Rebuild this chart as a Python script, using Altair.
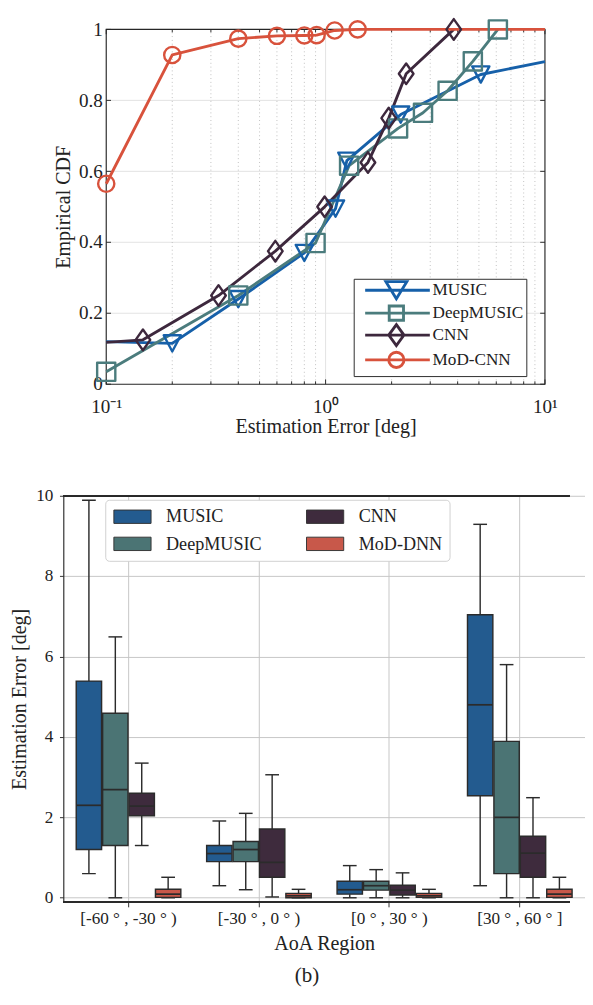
import altair as alt
import pandas as pd

FONT = "Liberation Serif"
TXT = "#222222"

# ---------------- top panel: empirical CDF ----------------
series_top = ["MUSIC", "DeepMUSIC", "CNN", "MoD-CNN"]
colors_top = ["#1660a9", "#4b7c7d", "#3d283d", "#d8523c"]

music_x = [0.1, 0.2, 0.4, 0.8, 1.11, 1.25, 2.2, 5.1, 10.0]
music_y = [0.12, 0.115, 0.24, 0.37, 0.495, 0.63, 0.76, 0.873, 0.909]
music_m = [0, 1, 1, 1, 1, 1, 1, 1, 0]

deep_x = [0.1, 0.4, 0.9, 1.28, 2.14, 2.78, 3.6, 4.69, 6.1]
deep_y = [0.035, 0.25, 0.398, 0.616, 0.721, 0.765, 0.827, 0.91, 1.0]
deep_m = [1, 1, 1, 1, 1, 1, 1, 1, 1]

cnn_x = [0.1, 0.147, 0.325, 0.59, 0.99, 1.56, 1.94, 2.33, 3.84]
cnn_y = [0.118, 0.125, 0.25, 0.375, 0.5, 0.625, 0.75, 0.875, 1.0]
cnn_m = [0, 1, 1, 1, 1, 1, 1, 1, 1]

mod_x = [0.1, 0.2, 0.4, 0.6, 0.8, 0.91, 1.1, 1.4, 10.0]
mod_y = [0.565, 0.928, 0.974, 0.982, 0.983, 0.984, 0.997, 1.0, 1.0]
mod_m = [1, 1, 1, 1, 1, 1, 1, 1, 0]

y_ticks_top = [0, 0.2, 0.4, 0.6, 0.8, 1.0]
x_major_top = [0.1, 1, 10]
x_minor_top = [0.2, 0.3, 0.4, 0.5, 0.6, 0.7, 0.8, 0.9, 2, 3, 4, 5, 6, 7, 8, 9]

# ---------------- bottom panel: box plots ----------------
regions = ["[-60 ° , -30 ° )", "[-30 ° , 0 ° )", "[0 ° , 30 ° )", "[30 ° , 60 ° ]"]
methods = ["MUSIC", "DeepMUSIC", "CNN", "MoD-DNN"]
colors_bot = ["#235b8f", "#4b7474", "#3e2b3d", "#c8584a"]

# per region: [MUSIC, DeepMUSIC, CNN, MoD-DNN]
w_lo = [[0.60, 0.0, 1.30, 0.0], [0.30, 0.20, 0.02, 0.0], [0.0, 0.0, 0.0, 0.0], [0.30, 0.0, 0.0, 0.0]]
q1 = [[1.20, 1.30, 2.04, 0.01], [0.90, 0.90, 0.51, 0.0], [0.09, 0.19, 0.07, 0.01], [2.54, 0.60, 0.51, 0.01]]
med = [[2.30, 2.69, 2.28, 0.09], [1.10, 1.20, 0.88, 0.05], [0.20, 0.30, 0.19, 0.05], [4.80, 2.00, 1.11, 0.09]]
q3 = [[5.39, 4.59, 2.60, 0.21], [1.30, 1.40, 1.71, 0.11], [0.41, 0.41, 0.31, 0.11], [7.04, 3.89, 1.53, 0.21]]
w_hi = [[9.89, 6.49, 3.35, 0.51], [1.91, 2.10, 3.06, 0.21], [0.80, 0.70, 0.62, 0.21], [9.29, 5.80, 2.49, 0.51]]

y_ticks_bot = [0, 2, 4, 6, 8, 10]

# ---------------- build tables ----------------
rows = []
for name, xs_, ys_, ms_ in zip(series_top, [music_x, deep_x, cnn_x, mod_x],
                               [music_y, deep_y, cnn_y, mod_y],
                               [music_m, deep_m, cnn_m, mod_m]):
    for i, (a, b, c) in enumerate(zip(xs_, ys_, ms_)):
        rows.append({"series": name, "x": a, "y": b, "m": c, "idx": i})
df_top = pd.DataFrame(rows)

brow = []
for i, r in enumerate(regions):
    for j, m in enumerate(methods):
        brow.append({"region": r, "method": m, "lo": w_lo[i][j], "q1": q1[i][j],
                     "med": med[i][j], "q3": q3[i][j], "hi": w_hi[i][j]})
df_box = pd.DataFrame(brow)

# ---------------- top chart ----------------
xs = alt.Scale(type="log", domain=[0.1, 10], range=[45, 505], nice=False)
ys = alt.Scale(domain=[0, 1], nice=False, zero=False)
FRAME = "#262626"

x_axis_top = alt.Axis(values=x_major_top,
                      labelExpr="datum.value < 0.5 ? '10⁻¹' : (datum.value < 5 ? '10⁰' : '10¹')",
                      grid=False, ticks=False, domain=False, labelPadding=14, labelFlush=False,
                      labelFontSize=20, title="Estimation Error [deg]", titleFontSize=21,
                      titlePadding=0)
y_axis_top = alt.Axis(values=y_ticks_top, format="~g", grid=False, ticks=False, domain=False,
                      offset=-45, labelPadding=4, labelFontSize=20, title="Empirical CDF",
                      titleFontSize=21, titlePadding=5)


def XT(field):
    return alt.X(field, type="quantitative", scale=xs, axis=x_axis_top)


def YT(field):
    return alt.Y(field, type="quantitative", scale=ys, axis=y_axis_top)


frame_df = pd.DataFrame({"x0": [0.1], "x1": [10], "y0": [0], "y1": [1]})
frame = alt.Chart(frame_df).mark_rect(fillOpacity=0, stroke=FRAME, strokeWidth=1.2).encode(
    x=XT("x0"), x2="x1:Q", y=YT("y0"), y2="y1:Q")

hgrid = alt.Chart(pd.DataFrame({"y": y_ticks_top[1:-1], "x0": 0.1, "x1": 10})).mark_rule(
    color="#e2e2e2", strokeWidth=1).encode(x=XT("x0"), x2="x1:Q", y=YT("y"))
vgrid_major = alt.Chart(pd.DataFrame({"x": [1], "y0": 0, "y1": 1})).mark_rule(
    color="#e2e2e2", strokeWidth=1).encode(x=XT("x"), y=YT("y0"), y2="y1:Q")
vgrid_minor = alt.Chart(pd.DataFrame({"x": x_minor_top, "y0": 0, "y1": 1})).mark_rule(
    color="#bdbdbd", strokeWidth=1, strokeDash=[1, 3]).encode(x=XT("x"), y=YT("y0"), y2="y1:Q")


def tick_layer(xv, yv, path, size):
    d = pd.DataFrame({"x": xv, "y": yv})
    return alt.Chart(d).mark_point(shape=path, size=size, filled=False, color=FRAME,
                                   strokeWidth=1, opacity=1, strokeJoin="round").encode(
        x=XT("x"), y=YT("y"))


ticks = [
    tick_layer([0.1] * len(y_ticks_top), y_ticks_top, "M0,0H1", 100),
    tick_layer([10] * len(y_ticks_top), y_ticks_top, "M0,0H-1", 100),
    tick_layer(x_major_top, [0] * 3, "M0,0V-1", 100),
    tick_layer(x_major_top, [1] * 3, "M0,0V1", 100),
    tick_layer(x_minor_top, [0] * len(x_minor_top), "M0,0V-1", 36),
    tick_layer(x_minor_top, [1] * len(x_minor_top), "M0,0V1", 36),
]

cs_top = alt.Scale(domain=series_top, range=colors_top)
marker_paths = ["M-0.9,-0.85L0.9,-0.85L0,0.85Z", "square", "M0,-1.2L0.85,0L0,1.2L-0.85,0Z", "circle"]
marker_sizes = [400, 289, 400, 289]

base_top = alt.Chart(df_top)
lines = base_top.mark_line(strokeWidth=3, strokeJoin="round").encode(
    x=XT("x"), y=YT("y"),
    color=alt.Color("series:N", scale=cs_top, legend=None), order="idx:Q")
points = base_top.transform_filter("datum.m == 1").mark_point(
    filled=False, strokeWidth=2.5, opacity=1, strokeJoin="round").encode(
    x=XT("x"), y=YT("y"),
    color=alt.Color("series:N", scale=cs_top, legend=None),
    shape=alt.Shape("series:N", scale=alt.Scale(domain=series_top, range=marker_paths), legend=None),
    size=alt.Size("series:N", scale=alt.Scale(domain=series_top, range=marker_sizes), legend=None))

legend_paths = [
    "M0,0H11.3M3.62,-1.5H7.28L5.45,1.5Z",
    "M0,0H11.3M4.2,-1.25H6.7V1.25H4.2Z",
    "M0,0H11.3M5.45,-1.83L6.78,0L5.45,1.83L4.12,0Z",
    "M0,0H11.3M4.12,0A1.33,1.33,0,1,0,6.78,0A1.33,1.33,0,1,0,4.12,0Z",
]
leg_top = alt.Legend(orient="none", legendX=304.5, legendY=261.5, title=None, symbolSize=144,
                     symbolStrokeWidth=3, symbolFillColor="transparent", labelFontSize=18,
                     labelOffset=61.7, rowPadding=-13.3, padding=3, strokeColor=FRAME,
                     fillColor="white", cornerRadius=0, labelLimit=300,
                     labelExpr="datum.label + '\u2003\u2003\u2002'")
legend_layer = base_top.transform_filter("datum.m == 2").mark_point(
    filled=False, strokeWidth=3, opacity=1).encode(
    x=XT("x"), y=YT("y"),
    color=alt.Color("series:N", scale=cs_top, legend=leg_top),
    shape=alt.Shape("series:N", scale=alt.Scale(domain=series_top, range=legend_paths), legend=leg_top))

top = alt.layer(hgrid, vgrid_major, vgrid_minor, frame, *ticks, lines, points, legend_layer).resolve_scale(
    color="independent", shape="independent", size="independent").properties(width=505, height=372)

# ---------------- bottom chart ----------------
EDGE = "#2b2b2b"
xsb = alt.Scale(domain=regions, range=[0, 547], paddingInner=0.19, paddingOuter=0.095)
xob = alt.Scale(domain=methods, paddingInner=0.04, paddingOuter=0.02)
ysb = alt.Scale(domain=[-0.107, 10], nice=False, zero=False)

x_axis_bot = alt.Axis(title="AoA Region", labelAngle=0, grid=True, gridColor="#c4c4c4",
                      bandPosition=0.5, tickSize=5, tickColor=EDGE, domain=False,
                      labelFontSize=18, labelPadding=4, titleFontSize=21, titlePadding=6)
y_axis_bot = alt.Axis(values=y_ticks_bot, title="Estimation Error [deg]", grid=True,
                      gridColor="#c4c4c4", tickSize=4, tickColor=EDGE, domainColor=EDGE,
                      domainWidth=1.2, labelFontSize=18, labelPadding=7, titleFontSize=21,
                      titlePadding=7)

leg_bot = alt.Legend(orient="none", legendX=44, legendY=4.2, title=None, columns=2,
                     columnPadding=45, rowPadding=7.7, padding=7,
                     symbolType="M-0.85,-0.7H3.05V0.7H-0.85Z", symbolSize=400,
                     symbolStrokeColor="#333333", symbolStrokeWidth=1, symbolOpacity=1,
                     labelFontSize=19, labelOffset=35.7, strokeColor="#cfcfcf",
                     fillColor="white", cornerRadius=4, labelLimit=300)

bb = alt.Chart(df_box)
X = alt.X("region:N", scale=xsb, axis=x_axis_bot)
XO = alt.XOffset("method:N", scale=xob)


def YB(field):
    return alt.Y(field, type="quantitative", scale=ysb, axis=y_axis_bot)


wl = bb.mark_rule(color=EDGE, strokeWidth=1.5).encode(x=X, xOffset=XO, y=YB("lo"), y2="q1:Q")
wh = bb.mark_rule(color=EDGE, strokeWidth=1.5).encode(x=X, xOffset=XO, y=YB("q3"), y2="hi:Q")
cap_lo = bb.mark_tick(color=EDGE, thickness=1.5, size=14.4, opacity=1).encode(
    x=X, xOffset=XO, y=YB("lo"))
cap_hi = bb.mark_tick(color=EDGE, thickness=1.5, size=14.4, opacity=1).encode(
    x=X, xOffset=XO, y=YB("hi"))
boxes = bb.mark_bar(stroke=EDGE, strokeWidth=1.5).encode(
    x=X, xOffset=XO, y=YB("q1"), y2="q3:Q",
    color=alt.Color("method:N", scale=alt.Scale(domain=methods, range=colors_bot),
                    legend=leg_bot))
medians = bb.mark_tick(color=EDGE, thickness=1.8, size=26, opacity=1).encode(
    x=X, xOffset=XO, y=YB("med"))
top_spine = bb.mark_rule(color=EDGE, strokeWidth=1.2).encode(
    y=alt.Y(datum=10, type="quantitative", scale=ysb, axis=y_axis_bot))
bottom_spine = bb.mark_rule(color=EDGE, strokeWidth=1.2).encode(
    y=alt.Y(datum=-0.107, type="quantitative", scale=ysb, axis=y_axis_bot))

bottom = alt.layer(wl, wh, cap_lo, cap_hi, boxes, medians, top_spine, bottom_spine).properties(
    width=531, height=426,
    title=alt.TitleParams("(b)", orient="bottom", anchor="middle", fontSize=22, font=FONT,
                          fontWeight="normal", color=TXT, offset=13, dx=-10))

chart = alt.vconcat(top, bottom, spacing=53).resolve_scale(
    color="independent", shape="independent", size="independent"
).resolve_legend(color="independent", shape="independent", size="independent").properties(
    padding={"left": 1, "top": -14.5, "right": 0, "bottom": -14}
).configure_view(strokeWidth=0).configure_axis(
    labelFont=FONT, titleFont=FONT, labelColor=TXT, titleColor=TXT, titleFontWeight="normal"
).configure_legend(labelFont=FONT, labelColor=TXT)

chart.save("out.html", embed_options={"renderer": "svg", "actions": False})
